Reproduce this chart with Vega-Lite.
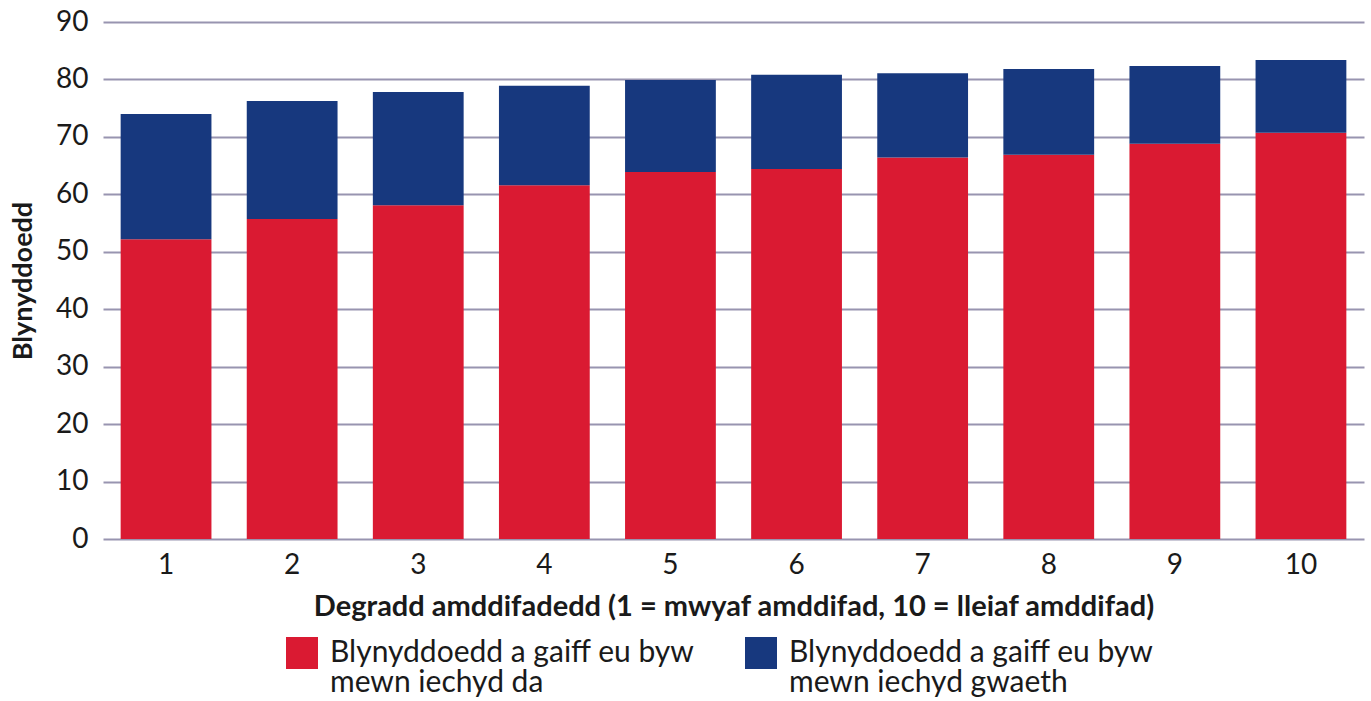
{
  "$schema": "https://vega.github.io/schema/vega-lite/v6.json",
  "width": 1261,
  "height": 517,
  "autosize": {"type": "none"},
  "padding": {"left": 103, "top": 22, "right": 7, "bottom": 162},
  "background": "white",
  "data": {
    "values": [
      {"decile": "1", "cat": "Blynyddoedd a gaiff eu byw mewn iechyd da", "ord": 1, "years": 52.2},
      {"decile": "1", "cat": "Blynyddoedd a gaiff eu byw mewn iechyd gwaeth", "ord": 2, "years": 21.8},
      {"decile": "2", "cat": "Blynyddoedd a gaiff eu byw mewn iechyd da", "ord": 1, "years": 55.7},
      {"decile": "2", "cat": "Blynyddoedd a gaiff eu byw mewn iechyd gwaeth", "ord": 2, "years": 20.55},
      {"decile": "3", "cat": "Blynyddoedd a gaiff eu byw mewn iechyd da", "ord": 1, "years": 58.1},
      {"decile": "3", "cat": "Blynyddoedd a gaiff eu byw mewn iechyd gwaeth", "ord": 2, "years": 19.7},
      {"decile": "4", "cat": "Blynyddoedd a gaiff eu byw mewn iechyd da", "ord": 1, "years": 61.6},
      {"decile": "4", "cat": "Blynyddoedd a gaiff eu byw mewn iechyd gwaeth", "ord": 2, "years": 17.3},
      {"decile": "5", "cat": "Blynyddoedd a gaiff eu byw mewn iechyd da", "ord": 1, "years": 63.9},
      {"decile": "5", "cat": "Blynyddoedd a gaiff eu byw mewn iechyd gwaeth", "ord": 2, "years": 16.0},
      {"decile": "6", "cat": "Blynyddoedd a gaiff eu byw mewn iechyd da", "ord": 1, "years": 64.4},
      {"decile": "6", "cat": "Blynyddoedd a gaiff eu byw mewn iechyd gwaeth", "ord": 2, "years": 16.4},
      {"decile": "7", "cat": "Blynyddoedd a gaiff eu byw mewn iechyd da", "ord": 1, "years": 66.4},
      {"decile": "7", "cat": "Blynyddoedd a gaiff eu byw mewn iechyd gwaeth", "ord": 2, "years": 14.7},
      {"decile": "8", "cat": "Blynyddoedd a gaiff eu byw mewn iechyd da", "ord": 1, "years": 66.9},
      {"decile": "8", "cat": "Blynyddoedd a gaiff eu byw mewn iechyd gwaeth", "ord": 2, "years": 14.9},
      {"decile": "9", "cat": "Blynyddoedd a gaiff eu byw mewn iechyd da", "ord": 1, "years": 68.8},
      {"decile": "9", "cat": "Blynyddoedd a gaiff eu byw mewn iechyd gwaeth", "ord": 2, "years": 13.55},
      {"decile": "10", "cat": "Blynyddoedd a gaiff eu byw mewn iechyd da", "ord": 1, "years": 70.7},
      {"decile": "10", "cat": "Blynyddoedd a gaiff eu byw mewn iechyd gwaeth", "ord": 2, "years": 12.7}
    ]
  },
  "mark": {"type": "bar"},
  "encoding": {
    "x": {
      "field": "decile",
      "type": "ordinal",
      "sort": ["1","2","3","4","5","6","7","8","9","10"],
      "scale": {"paddingInner": 0.28, "paddingOuter": 0.14},
      "axis": {
        "title": "Degradd amddifadedd (1 = mwyaf amddifad, 10 = lleiaf amddifad)",
        "labelAngle": 0,
        "ticks": false,
        "domain": false,
        "labelPadding": 12,
        "titlePadding": 13,
        "labelFontSize": 28,
        "titleFontSize": 29
      }
    },
    "y": {
      "field": "years",
      "type": "quantitative",
      "stack": "zero",
      "scale": {"domain": [0, 90]},
      "axis": {
        "title": "Blynyddoedd",
        "values": [0,10,20,30,40,50,60,70,80,90],
        "ticks": false,
        "domain": false,
        "labelPadding": 15,
        "titlePadding": 18,
        "labelFontSize": 28,
        "titleFontSize": 27,
        "grid": true
      }
    },
    "color": {
      "field": "cat",
      "type": "nominal",
      "scale": {
        "domain": ["Blynyddoedd a gaiff eu byw mewn iechyd da", "Blynyddoedd a gaiff eu byw mewn iechyd gwaeth"],
        "range": ["#DA1A32", "#17387E"]
      },
      "legend": {
        "title": null,
        "orient": "none",
        "legendX": 183,
        "legendY": 615,
        "direction": "horizontal",
        "columns": 2,
        "columnPadding": 50,
        "symbolType": "square",
        "symbolSize": 1024,
        "symbolStrokeWidth": 0,
        "symbolOpacity": 1,
        "labelOffset": 12,
        "labelFontSize": 30,
        "labelLimit": 0,
        "labelBaseline": "middle",
        "labelExpr": "[slice(datum.label, 0, 26), slice(datum.label, 27)]",
        "padding": 0
      }
    },
    "order": {"field": "ord", "type": "quantitative"}
  },
  "config": {
    "font": "Lato",
    "view": {"stroke": null},
    "axis": {
      "labelColor": "#1a1a1a",
      "titleColor": "#1a1a1a",
      "labelFont": "Lato",
      "titleFont": "Lato",
      "titleFontWeight": "bold",
      "gridColor": "#9894b0",
      "gridWidth": 2,
      "gridOpacity": 1
    },
    "legend": {"labelColor": "#1a1a1a", "labelFont": "Lato"},
    "style": {"guide-label": {"lineHeight": 30}}
  }
}
